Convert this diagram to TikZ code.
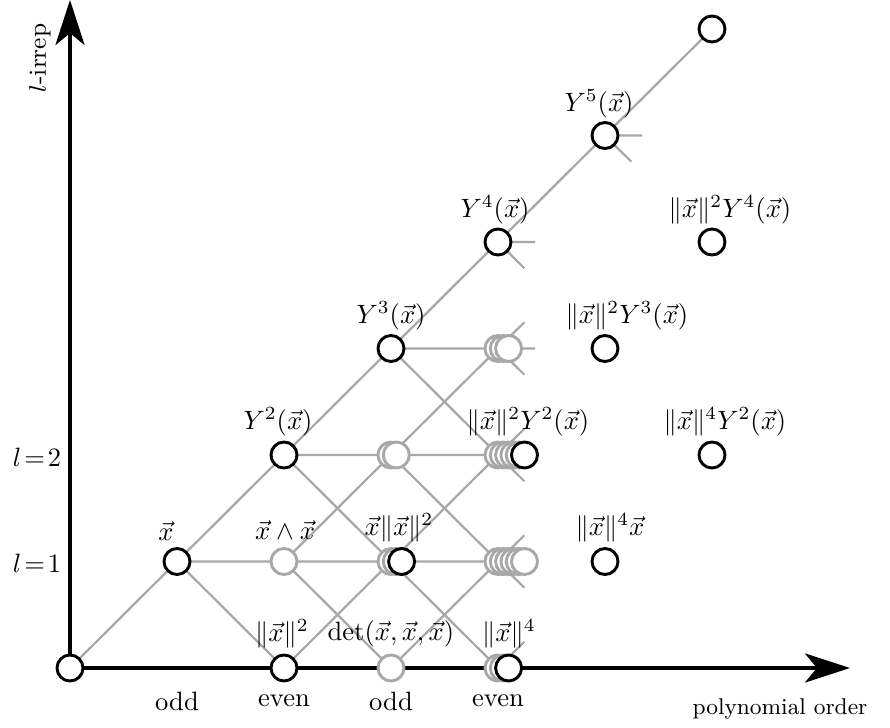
\documentclass[tikz,border=0pt]{standalone}
\usetikzlibrary{arrows.meta,calc}
\definecolor{lg}{RGB}{168,168,168}
\begin{document}
\begin{tikzpicture}[x=0.377pt,y=-0.377pt,
  gline/.style={draw=lg,line width=0.85pt},
  axis/.style={draw=black,line width=1.15pt,-{Stealth[length=17pt,width=11pt,inset=4.5pt]}},
  bc/.style={circle,draw=black,fill=white,line width=1.1pt,minimum size=9.8pt,inner sep=0pt},
  gc/.style={circle,draw=lg,fill=white,line width=1.1pt,minimum size=9.8pt,inner sep=0pt},
  lab/.style={inner sep=0pt},
  txt/.style={inner sep=0pt,font=\fontsize{8.6pt}{10pt}\selectfont},
  ytxt/.style={inner sep=0pt,font=\fontsize{9.3pt}{11pt}\selectfont},
  ptxt/.style={inner sep=0pt}]
\useasboundingbox (0,0) rectangle (890,728);
\foreach \i in {0,...,6}{\foreach \j in {0,...,6}{
  \coordinate (g\i\j) at ({70+107*\i},{668-106.5*\j});}}
% gray connectors
\draw[gline] (g00) -- (g11);
\draw[gline] (g11) -- (g20) (g11) -- (g21) (g11) -- (g22);
\draw[gline] (g20) -- (g31);
\draw[gline] (g21) -- (g30) (g21) -- (g31) (g21) -- (g32);
\draw[gline] (g22) -- (g31) (g22) -- (g32) (g22) -- (g33);
\draw[gline] (g30) -- (g41);
\draw[gline] (g31) -- (g40) (g31) -- (g41) (g31) -- (g42);
\draw[gline] (g32) -- (g41) (g32) -- (g42) (g32) -- (g43);
\draw[gline] (g33) -- (g42) (g33) -- (g43) (g33) -- (g44);
\draw[gline] (g44) -- (g55) (g55) -- (g66);
% stubs
\draw[gline] (g40) -- ($(g40)!14pt!(g51)$);
\draw[gline] (g41) -- ($(g41)!14pt!(g50)$) (g41) -- ($(g41)!14pt!(g51)$) (g41) -- ($(g41)!14pt!(g52)$);
\draw[gline] (g42) -- ($(g42)!14pt!(g51)$) (g42) -- ($(g42)!14pt!(g52)$) (g42) -- ($(g42)!14pt!(g53)$);
\draw[gline] (g43) -- ($(g43)!14pt!(g52)$) (g43) -- ($(g43)!14pt!(g53)$) (g43) -- ($(g43)!14pt!(g54)$);
\draw[gline] (g44) -- ($(g44)!14pt!(g53)$) (g44) -- ($(g44)!14pt!(g54)$);
\draw[gline] (g55) -- ($(g55)!14pt!(g64)$) (g55) -- ($(g55)!14pt!(g65)$);
% axes
\coordinate (xend) at (850,668);
\coordinate (yend) at (70,0);
\draw[axis] (g00) -- (xend);
\draw[axis] (g00) -- (yend);
% circles
\node[bc] (c00) at (g00) {};
\node[bc] (c11) at (g11) {};
\node[bc] (c20) at (g20) {};
\node[gc] (c21) at (g21) {};
\node[bc] (c22) at (g22) {};
\node[gc] (c30) at (g30) {};
\foreach \k in {0,1}{\node[gc] (c31-\k) at ($(g31)+(5.3*\k,0)$) {};}
\node[bc] (c31-2) at ($(g31)+(10.6,0)$) {};
\foreach \k in {0,1}{\node[gc] (c32-\k) at ($(g32)+(5.3*\k,0)$) {};}
\node[bc] (c33) at (g33) {};
\foreach \k in {0,1}{\node[gc] (c40-\k) at ($(g40)+(5.3*\k,0)$) {};}
\node[bc] (c40-2) at ($(g40)+(10.6,0)$) {};
\foreach \k in {0,...,5}{\node[gc] (c41-\k) at ($(g41)+(5.3*\k,0)$) {};}
\foreach \k in {0,...,4}{\node[gc] (c42-\k) at ($(g42)+(5.3*\k,0)$) {};}
\node[bc] (c42-5) at ($(g42)+(26.5,0)$) {};
\foreach \k in {0,1,2}{\node[gc] (c43-\k) at ($(g43)+(5.3*\k,0)$) {};}
\node[bc] (c44) at (g44) {};
\node[bc] (c55) at (g55) {};
\node[bc] (c66) at (g66) {};
\node[bc] (c51) at (g51) {};
\node[bc] (c53) at (g53) {};
\node[bc] (c62) at (g62) {};
\node[bc] (c64) at (g64) {};
% labels
\node[lab] (t11) at (166,531) {$\vec{x}$};
\node[lab] (t21) at (285,530) {$\vec{x}\wedge\vec{x}$};
\node[lab] (t20) at (282,634) {$\|\vec{x}\|^2$};
\node[lab] (t30) at (391,634) {$\det(\vec{x},\vec{x},\vec{x})$};
\node[lab] (t40) at (509,634) {$\|\vec{x}\|^4$};
\node[lab] (t31) at (399,528) {$\vec{x}\|\vec{x}\|^2$};
\node[lab] (t22) at (278,422) {$Y^2(\vec{x})$};
\node[lab] (t42) at (528,422) {$\|\vec{x}\|^2Y^2(\vec{x})$};
\node[lab] (t62) at (725,422) {$\|\vec{x}\|^4Y^2(\vec{x})$};
\node[lab] (t51) at (610,528) {$\|\vec{x}\|^4\vec{x}$};
\node[lab] (t33) at (391,316) {$Y^3(\vec{x})$};
\node[lab] (t53) at (627,316) {$\|\vec{x}\|^2Y^3(\vec{x})$};
\node[lab] (t44) at (495,210) {$Y^4(\vec{x})$};
\node[lab] (t64) at (730,210) {$\|\vec{x}\|^2Y^4(\vec{x})$};
\node[lab] (t55) at (599,104) {$Y^5(\vec{x})$};
\node[lab] (ly2) at (37,457) {$l\!=\!2$};
\node[lab] (ly1) at (37,563) {$l\!=\!1$};
\node[ytxt,rotate=90] (lyax) at (40,58) {$l$-irrep};
\node[ptxt] (o1) at (177,701) {odd};
\node[ptxt] (e2) at (284,701) {even};
\node[ptxt] (o3) at (391,701) {odd};
\node[ptxt] (e4) at (498,701) {even};
\node[txt] (lxax) at (780,709) {polynomial order};
\end{tikzpicture}
\end{document}
